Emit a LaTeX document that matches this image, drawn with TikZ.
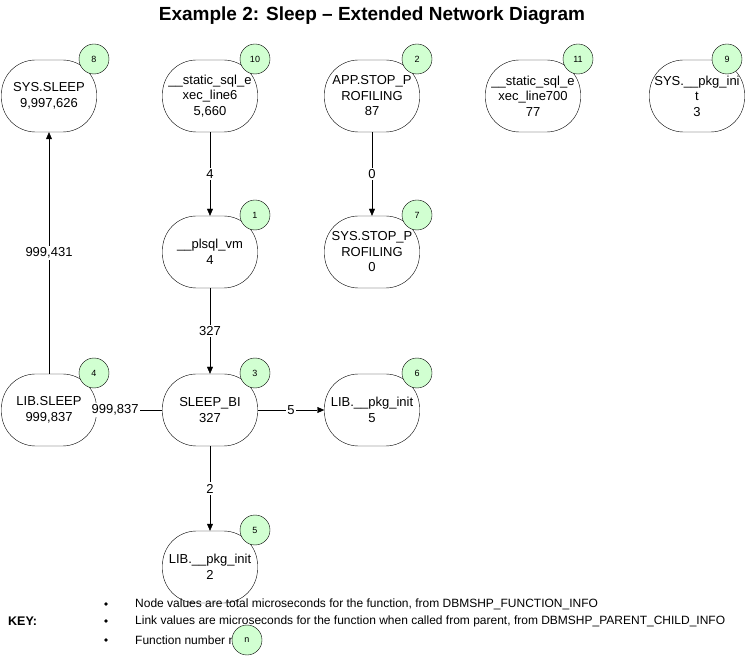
\documentclass[tikz,border=0pt]{standalone}
\usepackage{fontspec}
\setmainfont{Liberation Sans}
\usetikzlibrary{arrows.meta}
\begin{document}
\begin{tikzpicture}[x=1pt,y=-1pt,
 fn/.style={draw,rounded corners=34pt,minimum width=95pt,minimum height=72pt,align=center,font=\fontsize{13}{15.5}\selectfont,inner sep=0pt},
 num/.style={draw,circle,fill=green!18,minimum size=30pt,inner sep=0pt,font=\fontsize{9}{10}\selectfont},
 arr/.style={-{Triangle[length=7pt,width=6pt]}},
 lab/.style={fill=white,inner sep=1.5pt,font=\fontsize{13}{15}\selectfont}]
\useasboundingbox (0,0) rectangle (745,660);
\node[font=\bfseries\fontsize{19}{22}\selectfont] (title) at (372,16) {Example 2: Sleep -- Extended Network Diagram};
\newcommand\fnode[6]{\node[fn] (#1) at (#2,#3) {#4}; \node[num] (#1n) at (#2+#6,#3-37) {#5};}
\fnode{syssleep}{49}{96}{SYS.SLEEP\\9,997,626}{8}{45}
\fnode{st6}{210}{96}{\_\_static\_sql\_e\\xec\_line6\\5,660}{10}{45}
\fnode{app}{372}{96}{APP.STOP\_P\\ROFILING\\87}{2}{45}
\fnode{st700}{533}{96}{\_\_static\_sql\_e\\xec\_line700\\77}{11}{45}
\fnode{syspkg}{697}{96}{SYS.\_\_pkg\_ini\\t\\3}{9}{30}
\fnode{vm}{210}{252}{\_\_plsql\_vm\\4}{1}{45}
\fnode{sysstop}{372}{252}{SYS.STOP\_P\\ROFILING\\0}{7}{45}
\fnode{libsleep}{49}{410}{LIB.SLEEP\\999,837}{4}{45}
\fnode{bi}{210}{410}{SLEEP\_BI\\327}{3}{45}
\fnode{lib5}{372}{410}{LIB.\_\_pkg\_init\\5}{6}{45}
\fnode{lib2}{210}{567}{LIB.\_\_pkg\_init\\2}{5}{45}
\draw[arr] (st6) -- node[lab]{4} (vm);
\draw[arr] (app) -- node[lab]{0} (sysstop);
\draw[arr] (vm) -- node[lab]{327} (bi);
\draw[arr] (bi) -- node[lab]{2} (lib2);
\draw[arr] (bi) -- node[lab]{5} (lib5);
\draw[arr] (bi) -- node[lab,pos=0.72]{999,837} (libsleep);
\draw[arr] (libsleep) -- node[lab]{999,431} (syssleep);
\begin{scope}[font=\fontsize{12}{14}\selectfont]
\node[anchor=west,inner sep=0pt] (k1) at (135,604) {Node values are total microseconds for the function, from DBMSHP\_FUNCTION\_INFO};
\node[anchor=west,inner sep=0pt] (k2) at (135,621) {Link values are microseconds for the function when called from parent, from DBMSHP\_PARENT\_CHILD\_INFO};
\node[anchor=west,inner sep=0pt] (k3) at (135,640) {Function number n:};
\node[font=\bfseries\fontsize{12.5}{14}\selectfont,anchor=west,inner sep=0pt] (key) at (8,621) {KEY:};
\foreach \y in {604,621,640} \fill (106,\y) circle (1.8pt);
\end{scope}
\node[num] (kn) at (247,640) {n};
\end{tikzpicture}
\end{document}
